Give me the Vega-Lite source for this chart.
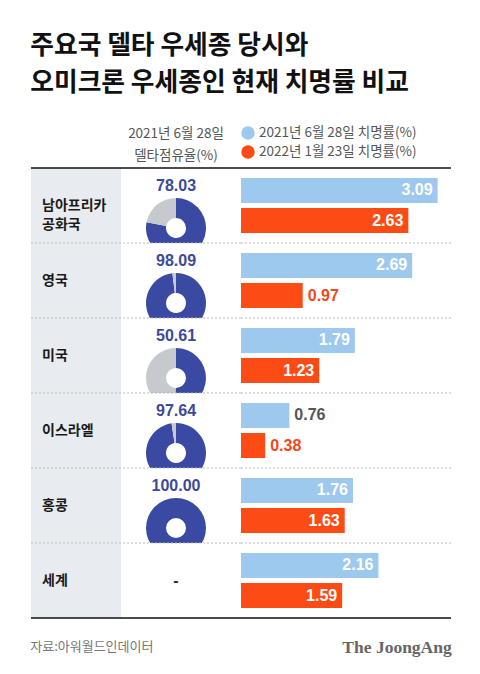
{
  "$schema": "https://vega.github.io/schema/vega-lite/v6.json",
  "background": "white",
  "padding": {"left": 30, "right": 30, "top": 33, "bottom": 10},
  "bounds": "flush",
  "spacing": 0,
  "resolve": {"scale": {"color": "independent"}, "legend": {"color": "independent"}},
  "config": {"view": {"stroke": null}, "font": "Noto Sans CJK KR"},
  "title": {
    "text": ["주요국 델타 우세종 당시와", "오미크론 우세종인 현재 치명률 비교"],
    "anchor": "start", "frame": "bounds", "fontSize": 25.75, "fontWeight": "bold",
    "font": "Noto Sans CJK KR", "lineHeight": 37, "color": "#111", "offset": 29
  },
  "datasets": {
    "countries": [
      {"country": "남아프리카공화국", "label": "남아프리카\n공화국", "delta": 78.03},
      {"country": "영국", "label": "영국", "delta": 98.09},
      {"country": "미국", "label": "미국", "delta": 50.61},
      {"country": "이스라엘", "label": "이스라엘", "delta": 97.64},
      {"country": "홍콩", "label": "홍콩", "delta": 100.00},
      {"country": "세계", "label": "세계", "delta": null}
    ],
    "donut": [
      {"country": "남아프리카공화국", "part": "델타", "share": 78.03},
      {"country": "남아프리카공화국", "part": "기타", "share": 21.97},
      {"country": "영국", "part": "델타", "share": 98.09},
      {"country": "영국", "part": "기타", "share": 1.91},
      {"country": "미국", "part": "델타", "share": 50.61},
      {"country": "미국", "part": "기타", "share": 49.39},
      {"country": "이스라엘", "part": "델타", "share": 97.64},
      {"country": "이스라엘", "part": "기타", "share": 2.36},
      {"country": "홍콩", "part": "델타", "share": 100.00},
      {"country": "홍콩", "part": "기타", "share": 0}
    ],
    "cfr": [
      {"country": "남아프리카공화국", "series": "2021년 6월 28일 치명률(%)", "value": 3.09},
      {"country": "남아프리카공화국", "series": "2022년 1월 23일 치명률(%)", "value": 2.63},
      {"country": "영국", "series": "2021년 6월 28일 치명률(%)", "value": 2.69},
      {"country": "영국", "series": "2022년 1월 23일 치명률(%)", "value": 0.97},
      {"country": "미국", "series": "2021년 6월 28일 치명률(%)", "value": 1.79},
      {"country": "미국", "series": "2022년 1월 23일 치명률(%)", "value": 1.23},
      {"country": "이스라엘", "series": "2021년 6월 28일 치명률(%)", "value": 0.76},
      {"country": "이스라엘", "series": "2022년 1월 23일 치명률(%)", "value": 0.38},
      {"country": "홍콩", "series": "2021년 6월 28일 치명률(%)", "value": 1.76},
      {"country": "홍콩", "series": "2022년 1월 23일 치명률(%)", "value": 1.63},
      {"country": "세계", "series": "2021년 6월 28일 치명률(%)", "value": 2.16},
      {"country": "세계", "series": "2022년 1월 23일 치명률(%)", "value": 1.59}
    ]
  },
  "hconcat": [
    {
      "width": 90, "height": 450,
      "view": {"fill": "#e8ecf0", "stroke": null},
      "title": {"text": "자료:아워월드인데이터", "orient": "bottom", "anchor": "start", "fontSize": 13, "fontWeight": "normal", "color": "#777", "offset": 22},
      "layer": [
        {
          "data": {"name": "countries"},
          "transform": [{"filter": "datum.country != '남아프리카공화국'"}],
          "mark": {"type": "rule", "color": "#bbb", "strokeDash": [2, 2], "strokeWidth": 1},
          "encoding": {"y": {"field": "country", "type": "nominal", "bandPosition": 0, "axis": null, "scale": {"domain": ["남아프리카공화국", "영국", "미국", "이스라엘", "홍콩", "세계"], "paddingInner": 0, "paddingOuter": 0}}}
        },
        {
          "data": {"name": "countries"},
          "transform": [{"filter": "datum.country == '남아프리카공화국'"}],
          "mark": {"type": "rule", "color": "#111", "strokeWidth": 1.5},
          "encoding": {"y": {"field": "country", "type": "nominal", "bandPosition": 0}}
        },
        {
          "data": {"name": "countries"},
          "transform": [{"filter": "datum.country == '세계'"}],
          "mark": {"type": "rule", "color": "#111", "strokeWidth": 1.5},
          "encoding": {"y": {"field": "country", "type": "nominal", "bandPosition": 1}}
        },
        {
          "data": {"name": "countries"},
          "mark": {"type": "text", "align": "left", "baseline": "middle", "fontSize": 14, "fontWeight": "bold", "lineBreak": "\n", "lineHeight": 19, "color": "#1a1a1a"},
          "encoding": {
            "y": {"field": "country", "type": "nominal"},
            "x": {"value": 11},
            "text": {"field": "label"}
          }
        }
      ]
    },
    {
      "width": 120, "height": 450,
      "title": {"text": ["2021년 6월 28일", "델타점유율(%)"], "fontSize": 13.5, "fontWeight": "normal", "color": "#555", "lineHeight": 22, "offset": 5, "anchor": "middle", "dx": -5},
      "layer": [
        {
          "data": {"name": "donut"},
          "transform": [{"stack": "share", "groupby": ["country"], "sort": [{"field": "part", "order": "descending"}], "as": ["t0", "t1"]}],
          "mark": {"type": "arc", "innerRadius": 10, "outerRadius": 30},
          "encoding": {
            "y": {"field": "country", "type": "nominal", "bandPosition": 0.8, "axis": null, "scale": {"domain": ["남아프리카공화국", "영국", "미국", "이스라엘", "홍콩", "세계"], "paddingInner": 0, "paddingOuter": 0}},
            "x": {"value": 55},
            "theta": {"field": "t0", "type": "quantitative", "stack": null, "scale": {"domain": [0, 100], "nice": false}},
            "theta2": {"field": "t1"},
            "color": {"field": "part", "type": "nominal", "legend": null, "scale": {"domain": ["델타", "기타"], "range": ["#3a4aa2", "#c6cace"]}}
          }
        },
        {
          "data": {"name": "countries"},
          "transform": [{"filter": "datum.country != '남아프리카공화국'"}],
          "mark": {"type": "rule", "color": "white", "strokeWidth": 15, "strokeCap": "butt"},
          "encoding": {"y": {"field": "country", "type": "nominal", "bandPosition": 0.1}}
        },
        {
          "data": {"name": "countries"},
          "transform": [{"filter": "datum.country != '남아프리카공화국'"}],
          "mark": {"type": "rule", "color": "#bbb", "strokeDash": [2, 2], "strokeWidth": 1},
          "encoding": {"y": {"field": "country", "type": "nominal", "bandPosition": 0}}
        },
        {
          "data": {"name": "countries"},
          "transform": [{"filter": "datum.country == '남아프리카공화국'"}],
          "mark": {"type": "rule", "color": "#111", "strokeWidth": 1.5},
          "encoding": {"y": {"field": "country", "type": "nominal", "bandPosition": 0}}
        },
        {
          "data": {"name": "countries"},
          "transform": [{"filter": "datum.country == '세계'"}],
          "mark": {"type": "rule", "color": "#111", "strokeWidth": 1.5},
          "encoding": {"y": {"field": "country", "type": "nominal", "bandPosition": 1}}
        },
        {
          "data": {"name": "countries"},
          "transform": [{"filter": "datum.delta != null"}],
          "mark": {"type": "text", "font": "Liberation Sans", "fontSize": 16, "fontWeight": "bold", "color": "#3b4a9b", "baseline": "middle"},
          "encoding": {
            "y": {"field": "country", "type": "nominal", "bandPosition": 0.24},
            "x": {"value": 55},
            "text": {"field": "delta", "type": "quantitative", "format": ".2f"}
          }
        },
        {
          "data": {"name": "countries"},
          "transform": [{"filter": "datum.delta == null"}],
          "mark": {"type": "text", "font": "Liberation Sans", "fontSize": 16, "fontWeight": "bold", "color": "#333", "baseline": "middle", "text": "-"},
          "encoding": {
            "y": {"field": "country", "type": "nominal"},
            "x": {"value": 55}
          }
        }
      ]
    },
    {
      "width": 210, "height": 450,
      "title": {"text": "The JoongAng", "orient": "bottom", "anchor": "end", "font": "Liberation Serif", "fontSize": 17.5, "fontWeight": "bold", "color": "#666", "offset": 20},
      "layer": [
        {
          "data": {"name": "countries"},
          "transform": [{"filter": "datum.country != '남아프리카공화국'"}],
          "mark": {"type": "rule", "color": "#bbb", "strokeDash": [2, 2], "strokeWidth": 1},
          "encoding": {"y": {"field": "country", "type": "nominal", "bandPosition": 0, "axis": null, "scale": {"domain": ["남아프리카공화국", "영국", "미국", "이스라엘", "홍콩", "세계"], "paddingInner": 0, "paddingOuter": 0}}}
        },
        {
          "data": {"name": "countries"},
          "transform": [{"filter": "datum.country == '남아프리카공화국'"}],
          "mark": {"type": "rule", "color": "#111", "strokeWidth": 1.5},
          "encoding": {"y": {"field": "country", "type": "nominal", "bandPosition": 0}}
        },
        {
          "data": {"name": "countries"},
          "transform": [{"filter": "datum.country == '세계'"}],
          "mark": {"type": "rule", "color": "#111", "strokeWidth": 1.5},
          "encoding": {"y": {"field": "country", "type": "nominal", "bandPosition": 1}}
        },
        {
          "data": {"name": "cfr"},
          "mark": {"type": "bar"},
          "encoding": {
            "y": {"field": "country", "type": "nominal"},
            "yOffset": {"field": "series", "type": "nominal", "scale": {"domain": ["2021년 6월 28일 치명률(%)", "2022년 1월 23일 치명률(%)"], "paddingInner": 0.1667, "paddingOuter": 0.3333}},
            "x": {"field": "value", "type": "quantitative", "axis": null, "scale": {"domain": [0, 3.3], "nice": false}},
            "color": {"field": "series", "type": "nominal",
              "scale": {"domain": ["2021년 6월 28일 치명률(%)", "2022년 1월 23일 치명률(%)"], "range": ["#9ec9ee", "#fd4b15"]},
              "legend": {"orient": "none", "legendX": 0, "legendY": -42, "title": null, "symbolType": "circle", "symbolSize": 180, "symbolStrokeWidth": 0, "symbolOpacity": 1, "labelFontSize": 13.5, "labelColor": "#555", "labelFont": "Noto Sans CJK KR", "rowPadding": 5, "labelOffset": 4, "padding": 0}}
          }
        },
        {
          "data": {"name": "cfr"},
          "transform": [{"filter": "datum.value >= 1"}],
          "mark": {"type": "text", "align": "right", "baseline": "middle", "dx": -5, "font": "Liberation Sans", "fontSize": 16, "fontWeight": "bold", "color": "white"},
          "encoding": {
            "y": {"field": "country", "type": "nominal"},
            "yOffset": {"field": "series", "type": "nominal"},
            "x": {"field": "value", "type": "quantitative"},
            "text": {"field": "value", "type": "quantitative", "format": ".2f"}
          }
        },
        {
          "data": {"name": "cfr"},
          "transform": [{"filter": "datum.value < 1"}],
          "mark": {"type": "text", "align": "left", "baseline": "middle", "dx": 5, "font": "Liberation Sans", "fontSize": 16, "fontWeight": "bold"},
          "encoding": {
            "y": {"field": "country", "type": "nominal"},
            "yOffset": {"field": "series", "type": "nominal"},
            "x": {"field": "value", "type": "quantitative"},
            "text": {"field": "value", "type": "quantitative", "format": ".2f"},
            "color": {"condition": {"test": "datum.series == '2022년 1월 23일 치명률(%)'", "value": "#f0491a"}, "value": "#555"}
          }
        }
      ]
    }
  ]
}
